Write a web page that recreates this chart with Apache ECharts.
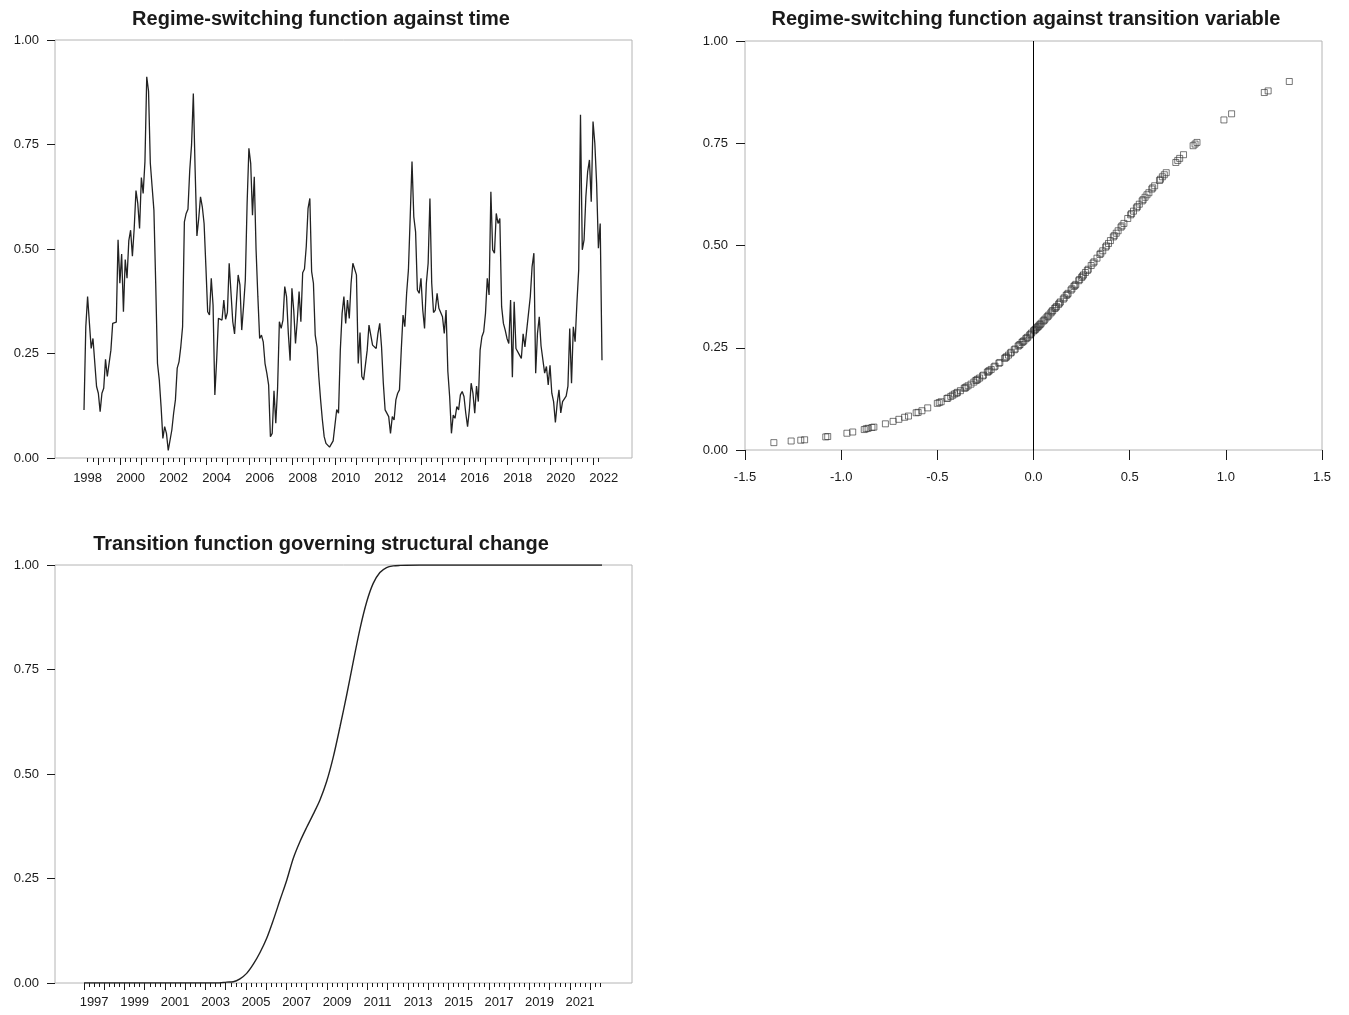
<!DOCTYPE html>
<html><head><meta charset="utf-8">
<script src="https://cdn.jsdelivr.net/npm/echarts@6/dist/echarts.min.js"></script>
<style>html,body{margin:0;padding:0;background:#fff}#chart{width:1349px;height:1015px}</style>
</head><body><div id="chart"></div>
<script>
// ---- DATA ----
// Regime-switching function, monthly, Dec 1997 .. Jan 2022
const regimeStartYear = 1997;
const regimeStartMonth = 12;
const regimeValues = [
0.115,0.314,0.386,0.388,0.262,0.286,0.290,0.171,0.155,0.111,
0.155,0.167,0.236,0.195,0.196,0.258,0.322,0.322,0.325,0.522,
0.418,0.488,0.350,0.475,0.430,0.520,0.545,0.483,0.549,0.640,
0.609,0.549,0.671,0.633,0.709,0.912,0.878,0.705,0.649,0.593,
0.418,0.226,0.187,0.123,0.047,0.075,0.059,0.018,0.021,0.067,
0.107,0.139,0.215,0.230,0.266,0.314,0.565,0.585,0.595,0.689,
0.749,0.872,0.689,0.531,0.573,0.625,0.601,0.561,0.458,0.350,
0.342,0.430,0.366,0.151,0.234,0.334,0.338,0.330,0.378,0.332,
0.348,0.466,0.469,
0.326,0.297,0.370,0.438,0.414,0.306,0.362,0.426,0.609,0.741,
0.705,0.581,0.673,0.498,0.386,0.286,0.294,0.278,0.226,0.203,
0.175,0.051,0.059,0.161,0.083,0.167,0.326,0.310,0.330,0.410,
0.386,0.298,0.233,0.406,0.354,0.274,0.330,0.398,0.326,0.443,
0.452,0.506,0.597,0.621,0.446,0.418,0.294,0.266,0.195,0.139,
0.091,0.051,0.035,0.033,0.026,0.026,0.041,0.045,0.116,0.107,
0.258,0.346,0.386,0.322,0.378,0.334,0.418,0.466,0.468,0.438,
0.226,0.300,0.195,0.187,0.185,0.258,0.318,0.316,0.270,0.274,
0.262,0.298,0.322,0.266,0.179,0.115,0.119,0.099,0.059,0.099,
0.091,0.139,0.155,0.163,0.258,0.342,0.314,0.394,0.450,0.577,
0.709,0.577,0.541,0.402,0.394,0.430,0.354,0.310,0.418,0.466,
0.621,
0.418,0.348,0.354,0.394,0.358,0.362,0.338,0.298,0.354,0.207,
0.147,0.059,0.103,0.095,0.123,0.115,0.151,0.159,0.147,0.107,
0.075,0.115,0.179,0.155,0.107,0.172,0.135,0.258,0.290,0.302,
0.346,0.430,0.390,0.637,0.498,0.490,0.585,0.561,0.573,0.362,
0.322,0.306,0.286,0.274,0.378,0.193,0.374,0.262,0.262,0.246,
0.238,0.297,0.266,0.306,0.302,0.386,0.458,0.490,0.203,0.298,
0.338,0.268,0.266,0.203,0.219,0.175,0.222,0.155,0.135,0.085,
0.131,0.163,0.108,0.135,0.139,0.148,0.172,0.310,0.179,0.314,
0.278,0.370,0.450,0.821,0.498,0.522,0.625,0.685,0.713,0.613,
0.805,0.753,0.657,0.502,0.561,0.234
];

// Transition function governing structural change (time in years)
const transitionTime = [1996.42,2003.10,2003.46,2003.79,2004.12,2004.45,2004.78,2005.11,2005.44,2005.77,
  2006.10,2006.43,2006.75,2007.08,2007.41,2007.74,2008.07,2008.40,2008.73,2009.06,
  2009.39,2009.72,2010.05,2010.38,2010.70,2011.03,2011.36,2011.69,2012.02,2013.00,2022.00];
const transitionValues = [0,0,0.002,0.003,0.010,0.023,0.045,0.073,0.107,0.151,
  0.199,0.246,0.298,0.338,0.372,0.404,0.438,0.482,0.541,0.613,
  0.689,0.770,0.848,0.912,0.956,0.982,0.994,0.998,0.999,1.000,1.000];

// Regime-switching function against transition variable
const scatterX = [
-1.35,-1.26,-1.21,-1.19,-1.08,-1.07,-0.97,-0.94,-0.88,-0.87,
-0.86,-0.84,-0.83,-0.77,-0.73,-0.70,-0.67,-0.65,-0.61,-0.60,
-0.58,-0.55,-0.50,-0.49,-0.48,-0.45,-0.43,-0.42,-0.41,-0.40,
-0.38,-0.36,-0.35,-0.34,-0.31,-0.30,-0.29,-0.28,-0.26,-0.24,
-0.23,-0.22,-0.20,-0.18,-0.15,-0.14,-0.13,-0.12,-0.10,-0.08,
-0.07,-0.06,-0.05,-0.04,-0.03,-0.02,-0.01,0.00,0.01,0.02,
0.03,0.04,0.05,0.06,0.07,0.08,0.09,0.10,0.11,0.12,
0.13,0.14,0.16,0.17,0.18,0.20,0.21,0.22,0.24,0.25,
0.26,0.27,0.28,0.30,0.31,0.33,0.35,0.36,0.38,0.39,
0.40,0.42,0.43,0.44,0.46,0.47,0.49,0.51,0.52,0.54,
0.55,0.57,0.58,0.59,0.60,0.62,0.63,0.66,0.67,0.68,
0.69,0.74,0.75,0.76,0.78,0.83,0.84,0.85,0.99,1.03,
1.20,1.22,1.33,
-0.445,-0.395,-0.355,-0.325,-0.295,-0.265,-0.235,-0.205,-0.175,-0.145,
-0.115,-0.095,-0.075,-0.055,-0.035,-0.015,0.005,0.015,0.025,0.035,
0.055,0.075,0.095,0.115,0.135,0.155,0.175,0.195,0.215,0.235,
0.255,0.285,0.315,0.345,0.375,0.415,0.455,0.505,0.535,0.565,
0.615,0.655];
const scatterY = [
0.018,0.022,0.024,0.025,0.032,0.033,0.041,0.044,0.050,0.052,
0.053,0.055,0.056,0.064,0.070,0.075,0.080,0.083,0.091,0.092,
0.096,0.103,0.114,0.116,0.118,0.126,0.131,0.134,0.137,0.139,
0.145,0.151,0.154,0.157,0.166,0.170,0.173,0.176,0.183,0.190,
0.194,0.197,0.205,0.212,0.224,0.228,0.232,0.237,0.245,0.254,
0.258,0.263,0.267,0.272,0.276,0.281,0.286,0.291,0.295,0.300,
0.305,0.310,0.315,0.320,0.325,0.330,0.335,0.341,0.346,0.351,
0.356,0.362,0.372,0.378,0.383,0.394,0.400,0.405,0.417,0.422,
0.428,0.434,0.439,0.451,0.457,0.469,0.481,0.487,0.499,0.505,
0.512,0.524,0.530,0.536,0.548,0.554,0.566,0.578,0.584,0.595,
0.601,0.612,0.618,0.624,0.629,0.641,0.646,0.662,0.668,0.673,
0.678,0.703,0.708,0.713,0.722,0.744,0.748,0.752,0.807,0.822,
0.874,0.878,0.901,
0.127,0.141,0.152,0.161,0.171,0.181,0.192,0.203,0.214,0.226,
0.239,0.247,0.256,0.265,0.274,0.283,0.293,0.298,0.302,0.307,
0.317,0.327,0.338,0.348,0.359,0.369,0.380,0.391,0.402,0.414,
0.425,0.442,0.460,0.478,0.496,0.521,0.545,0.575,0.592,0.609,
0.638,0.659];

const topYearLabels = [1998,2000,2002,2004,2006,2008,2010,2012,2014,2016,2018,2020,2022];
const bottomYearLabels = [1997,1999,2001,2003,2005,2007,2009,2011,2013,2015,2017,2019,2021];
const titles = [
  'Regime-switching function against time',
  'Regime-switching function against transition variable',
  'Transition function governing structural change'
];

// ---- CHART ----
const FONT = "'Liberation Sans', Arial, Helvetica, sans-serif";
const TXT = '#1a1a1a';
const regimeT0 = regimeStartYear + (regimeStartMonth - 1) / 12;
const regimeData = regimeValues.map((v, i) => [regimeT0 + i / 12, v]);
const transData = transitionTime.map((t, i) => [t, transitionValues[i]]);
const scatterData = scatterX.map((x, i) => [x, scatterY[i]]);

// tick positions (quarterly minor ticks, yearly long ticks, labels centred between long ticks)
function seq(a, step, b) { const r = []; for (let v = a; v <= b + 1e-9; v += step) r.push(+v.toFixed(4)); return r; }
const topMinor = seq(regimeT0 + 2 / 12, 0.25, 2022.0);
const topMajor = seq(regimeT0 + 8 / 12, 1, 2022.0);
const topLabelPos = topYearLabels.map(y => y + 1 / 12);
const botT0 = 1996 + 5 / 12;
const botMinor = seq(botT0, 0.25, 2022.0);
const botMajor = seq(botT0, 1, 2022.0);
const botLabelPos = bottomYearLabels.map(y => y - 1 / 12);

function timeAxes(gridIndex, min, max, labelPos, minor, major, margin) {
  return [
    { type: 'value', gridIndex, position: 'bottom', min, max, axisLine: { show: false, onZero: false }, splitLine: { show: false },
      axisTick: { show: true, customValues: minor, length: 4, lineStyle: { color: TXT, width: 1 } },
      axisLabel: { customValues: labelPos, formatter: v => String(Math.round(v)), margin, fontSize: 13, color: TXT, fontFamily: FONT } },
    { type: 'value', gridIndex, position: 'bottom', offset: 0, min, max, axisLine: { show: false, onZero: false }, splitLine: { show: false },
      axisTick: { show: true, customValues: major, length: 7, lineStyle: { color: TXT, width: 1 } },
      axisLabel: { show: false } }
  ];
}
function yAxis01(gridIndex, margin, tickLen) {
  return { type: 'value', gridIndex, position: 'left', min: 0, max: 1, interval: 0.25,
    axisLine: { show: false, onZero: false }, splitLine: { show: false },
    axisTick: { show: true, length: tickLen, lineStyle: { color: TXT } },
    axisLabel: { formatter: v => v.toFixed(2), margin, fontSize: 13, color: TXT, fontFamily: FONT } };
}
const gridStyle = { show: true, borderColor: '#b4b4b4', borderWidth: 1, backgroundColor: '#fff', containLabel: false, outerBoundsMode: 'none' };

const option = {
  animation: false,
  backgroundColor: '#fff',
  title: [
    { text: titles[0], left: 321, top: 19 },
    { text: titles[1], left: 1026, top: 19 },
    { text: titles[2], left: 321, top: 544 }
  ].map(t => Object.assign(t, { textAlign: 'center', textVerticalAlign: 'middle', padding: 0,
      textStyle: { fontSize: 20, fontWeight: 'bold', color: TXT, fontFamily: FONT } })),
  grid: [
    Object.assign({ left: 55, top: 40, width: 577, height: 418 }, gridStyle),
    Object.assign({ left: 745, top: 41, width: 577, height: 409 }, gridStyle),
    Object.assign({ left: 55, top: 565, width: 577, height: 418 }, gridStyle)
  ],
  xAxis: [
    ...timeAxes(0, 1996.568, 2023.395, topLabelPos, topMinor, topMajor, 14),
    { type: 'value', gridIndex: 1, position: 'bottom', min: -1.5, max: 1.5, interval: 0.5,
      axisLine: { show: false, onZero: false }, splitLine: { show: false },
      axisTick: { show: true, length: 10, lineStyle: { color: TXT } },
      axisLabel: { formatter: v => v.toFixed(1), margin: 21, fontSize: 13, color: TXT, fontFamily: FONT } },
    ...timeAxes(2, 1994.985, 2023.481, botLabelPos, botMinor, botMajor, 13)
  ],
  yAxis: [ yAxis01(0, 16, 8), yAxis01(1, 17, 9), yAxis01(2, 16, 8) ],
  series: [
    { type: 'line', name: 'G(time)', xAxisIndex: 0, yAxisIndex: 0, data: regimeData, showSymbol: false,
      lineStyle: { color: '#222', width: 1.3 } },
    { type: 'scatter', name: 'G(transition)', xAxisIndex: 2, yAxisIndex: 1, data: scatterData, symbol: 'rect', symbolSize: 6,
      itemStyle: { color: 'rgba(255,255,255,0)', borderColor: 'rgba(45,45,45,0.8)', borderWidth: 1 },
      markLine: { silent: true, symbol: ['none', 'none'], label: { show: false },
        lineStyle: { color: '#000', width: 1, type: 'solid' }, data: [{ xAxis: 0 }] } },
    { type: 'line', name: 'Transition', xAxisIndex: 3, yAxisIndex: 2, data: transData, showSymbol: false, smooth: 0.3,
      lineStyle: { color: '#222', width: 1.4 } }
  ]
};
const chart = echarts.init(document.getElementById('chart'), null, { renderer: 'canvas' });
chart.setOption(option);
</script>
</body></html>
